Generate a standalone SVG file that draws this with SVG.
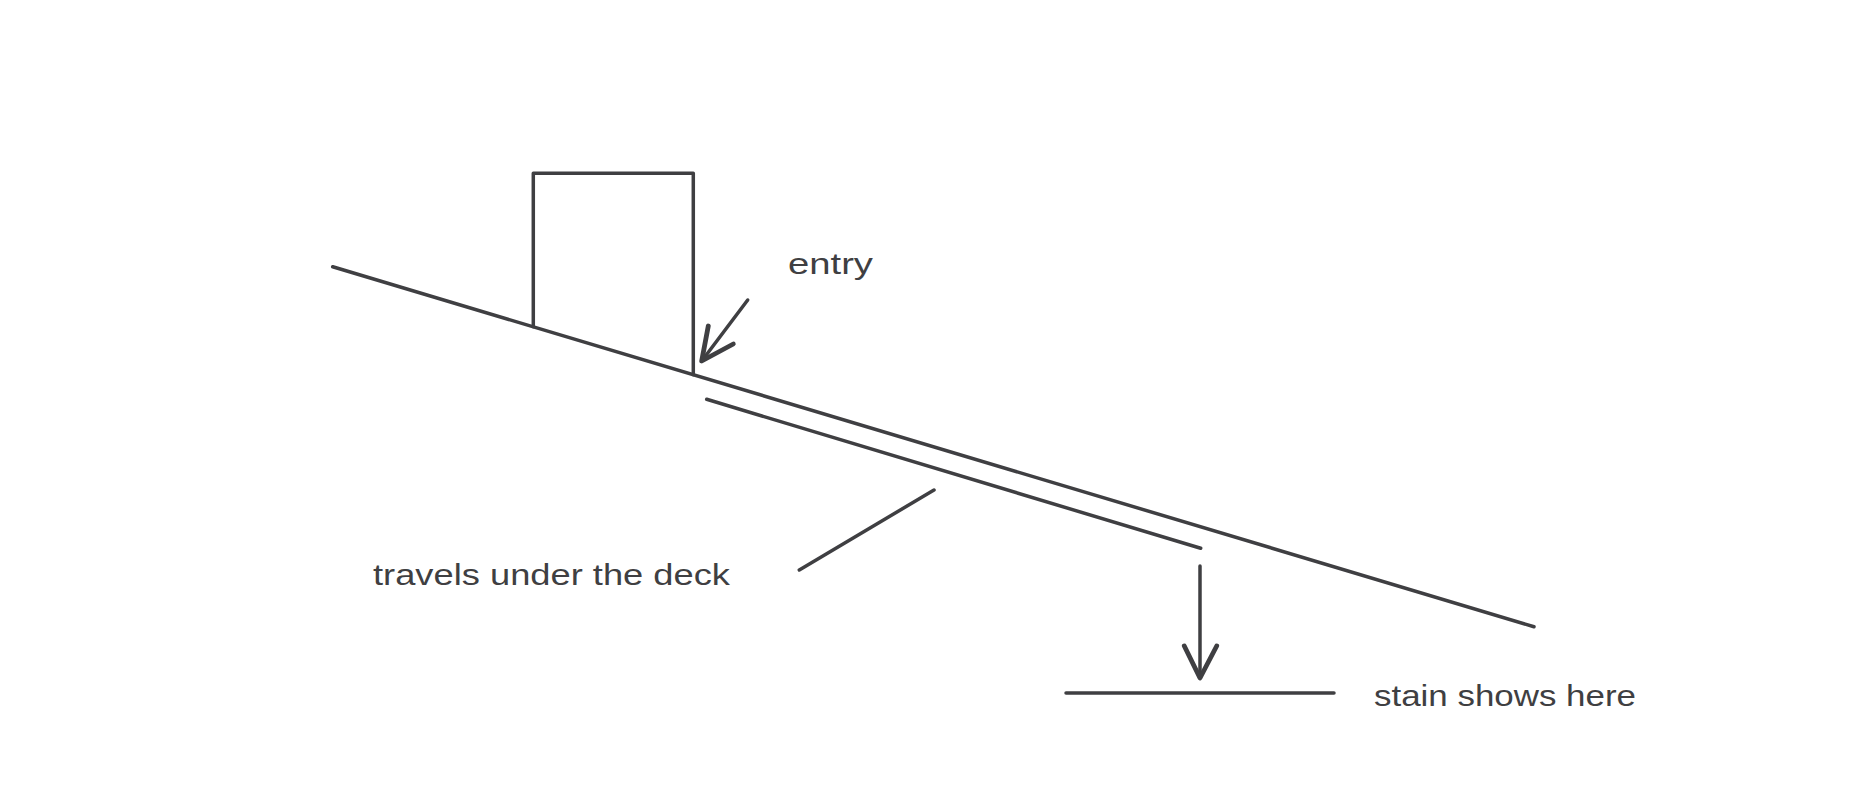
<svg xmlns="http://www.w3.org/2000/svg" width="1867" height="800" viewBox="0 0 1867 800">
<style>
.ln{fill:none;stroke:#3f3f42;stroke-width:3.5;stroke-linecap:round;stroke-linejoin:round}
.hd{fill:none;stroke:#3f3f42;stroke-width:4.8;stroke-linecap:round;stroke-linejoin:round}
.tx{font-family:"Liberation Sans",Arial,sans-serif;font-size:30px;fill:#3f3f42}
</style>
<rect width="1867" height="800" fill="#ffffff"/>
<g id="deck">
<line class="ln" x1="332.7" y1="266.7" x2="1534" y2="626.7"/>
</g>
<g id="post">
<path class="ln" d="M533.3 326.8 V173.3 H693.3 V374.8"/>
</g>
<g id="under-deck">
<line class="ln" x1="706.7" y1="399.3" x2="1200.7" y2="548.3"/>
</g>
<g id="stain-surface">
<line class="ln" x1="1066" y1="693" x2="1334" y2="693"/>
</g>
<g id="connectors">
<path class="ln" d="M747.7 300 L702.5 360"/>
<path class="hd" d="M708.3 326 L701.7 361 L733.3 344"/>
<path class="ln" d="M934 490 L799.3 570"/>
<path class="ln" d="M1200 566 V676"/>
<path class="hd" d="M1184.3 646 L1200 678 L1216.7 646"/>
</g>
<g id="labels">
<text class="tx" x="788" y="274" textLength="85" lengthAdjust="spacingAndGlyphs">entry</text>
<text class="tx" x="373" y="585" textLength="357" lengthAdjust="spacingAndGlyphs">travels under the deck</text>
<text class="tx" x="1374" y="706" textLength="262" lengthAdjust="spacingAndGlyphs">stain shows here</text>
</g>
</svg>
